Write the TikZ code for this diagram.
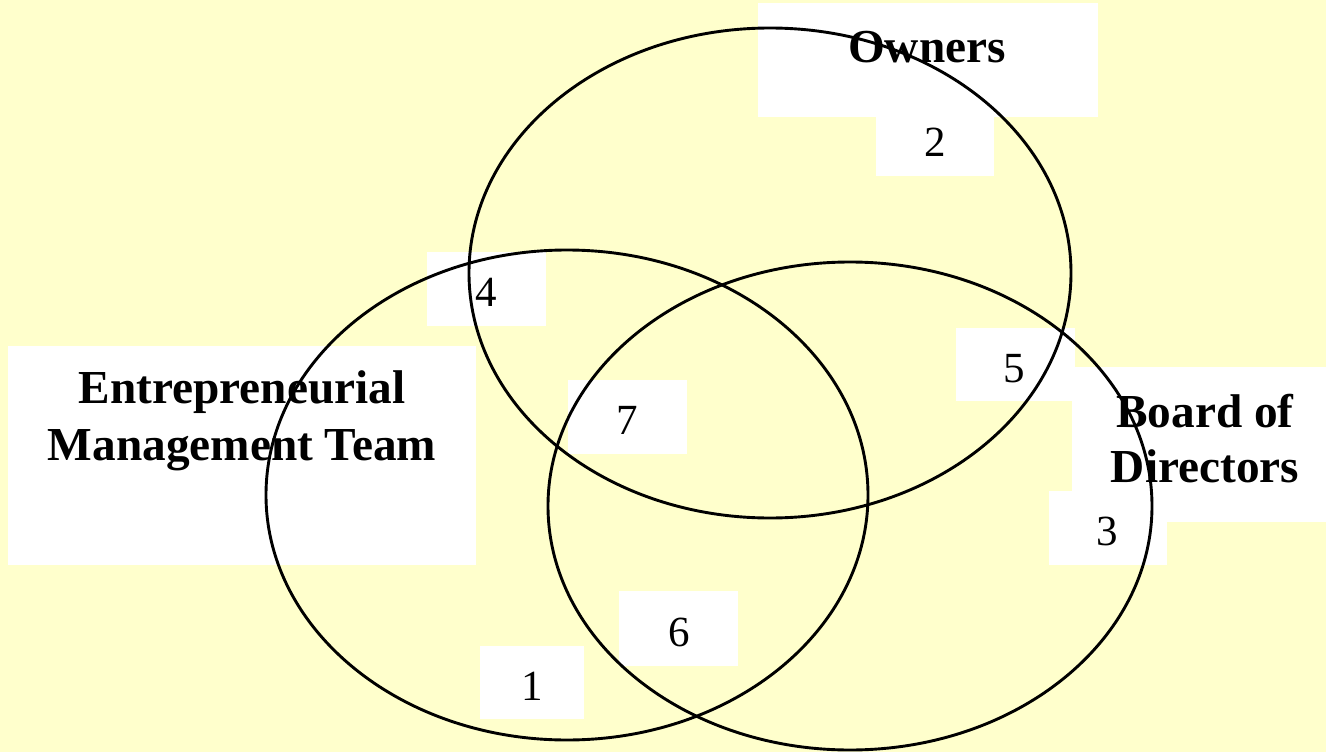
\documentclass[tikz,border=0pt]{standalone}
\usepackage{fontspec}
\setmainfont{Liberation Serif}
\definecolor{paper}{HTML}{FFFFCC}
\tikzset{
  label box/.style={fill=white},
  set ring/.style={draw=black, line width=2.9pt},
  title text/.style={anchor=base, inner sep=0pt, font=\fontsize{47.3}{56}\selectfont\bfseries},
  region num/.style={anchor=base, inner sep=0pt, font=\fontsize{43}{50}\selectfont}
}
\begin{document}
\begin{tikzpicture}[x=1pt,y=-1pt]
  % page
  \fill[paper] (0,0) rectangle (1326,752);
  \useasboundingbox (0,0) rectangle (1326,752);

  % white label panels
  \fill[label box] (758,3) rectangle (1098,117);     % Owners
  \fill[label box] (876,117) rectangle (994,176);    % 2
  \fill[label box] (427,252) rectangle (546,326);    % 4
  \fill[label box] (8,346) rectangle (476,565);      % management team
  \fill[label box] (956,328) rectangle (1075,401);   % 5
  \fill[label box] (1072,367) rectangle (1326,522);  % board
  \fill[label box] (1049,491) rectangle (1167,565);  % 3
  \fill[label box] (568,380) rectangle (687,454);    % 7
  \fill[label box] (619,591) rectangle (738,666);    % 6
  \fill[label box] (480,646) rectangle (584,719);    % 1

  % the three overlapping sets
  \draw[set ring] (770,273) ellipse [x radius=301pt, y radius=245pt];
  \draw[set ring] (567,495) ellipse [x radius=301pt, y radius=245pt];
  \draw[set ring] (850,506) ellipse [x radius=302pt, y radius=244pt];

  % set titles
  \node[title text] (owners) at (927,63) {Owners};
  \node[title text] (emt1) at (242,403) {Entrepreneurial};
  \node[title text] (emt2) at (242,460) {Management Team};
  \node[title text] (bod1) at (1205,427) {Board of};
  \node[title text] (bod2) at (1205,482) {Directors};

  % region numbers
  \node[region num] (r1) at (532,700) {1};
  \node[region num] (r2) at (935,156) {2};
  \node[region num] (r3) at (1107,545) {3};
  \node[region num] (r4) at (486,306) {4};
  \node[region num] (r5) at (1014,382) {5};
  \node[region num] (r6) at (679,646) {6};
  \node[region num] (r7) at (627,434) {7};
\end{tikzpicture}
\end{document}
